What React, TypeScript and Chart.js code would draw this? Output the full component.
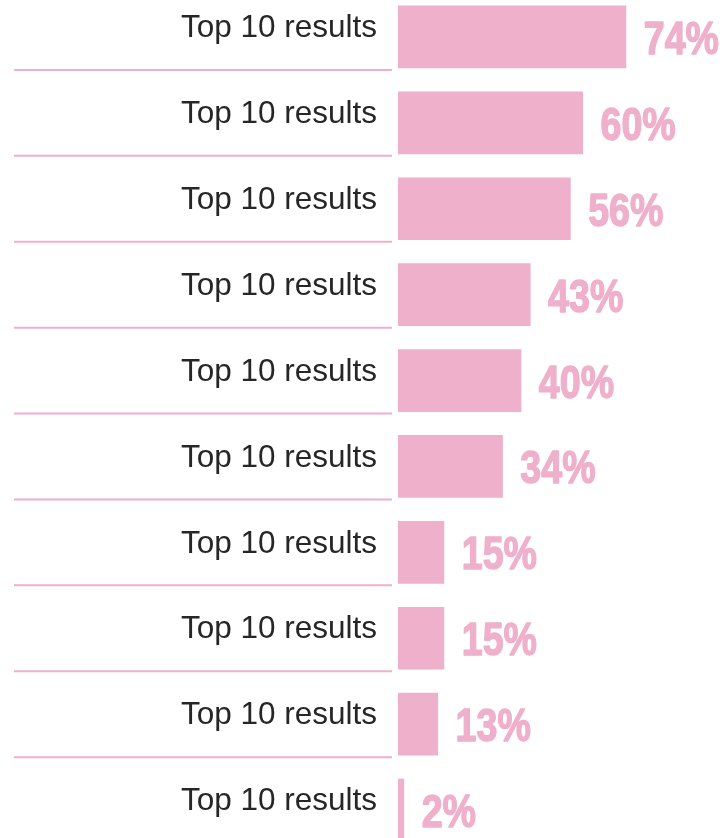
import React, { useEffect, useRef } from "react";
import { Chart, registerables } from "chart.js";

Chart.register(...registerables);

const categories = [
  "Top 10 results",
  "Top 10 results",
  "Top 10 results",
  "Top 10 results",
  "Top 10 results",
  "Top 10 results",
  "Top 10 results",
  "Top 10 results",
  "Top 10 results",
  "Top 10 results",
];
const values = [74, 60, 56, 43, 40, 34, 15, 15, 13, 2];

const PINK = "#EFB0CB";

const decorPlugin = {
  id: "decor",
  afterDatasetsDraw(chart: any) {
    const ctx = chart.ctx;
    const meta = chart.getDatasetMeta(0);
    const xScale = chart.scales.x;
    const yScale = chart.scales.y;
    meta.data.forEach((bar: any, i: number) => {
      const yc = yScale.getPixelForValue(i);
      ctx.save();
      // separator line under label
      ctx.strokeStyle = PINK;
      ctx.lineWidth = 2;
      ctx.beginPath();
      ctx.moveTo(14, yc + 33);
      ctx.lineTo(392, yc + 33);
      ctx.stroke();
      // value label (condensed, heavy)
      const xe = xScale.getPixelForValue(values[i]);
      ctx.fillStyle = PINK;
      ctx.strokeStyle = PINK;
      ctx.lineWidth = 1.5;
      ctx.lineJoin = "round";
      ctx.font = "bold 47px 'Liberation Sans', Arial, sans-serif";
      ctx.textAlign = "left";
      ctx.textBaseline = "alphabetic";
      ctx.translate(xe + 17.5, yc + 17);
      ctx.scale(0.8, 1);
      ctx.fillText(values[i] + "%", 0, 0);
      ctx.strokeText(values[i] + "%", 0, 0);
      ctx.restore();
    });
  },
};

export default function App() {
  const ref = useRef<HTMLCanvasElement>(null);
  useEffect(() => {
    if (!ref.current) return;
    const chart = new Chart(ref.current, {
      type: "bar",
      data: {
        labels: categories,
        datasets: [
          {
            data: values,
            backgroundColor: PINK,
            borderWidth: 0,
            barPercentage: 0.73,
            categoryPercentage: 1,
          },
        ],
      },
      options: {
        indexAxis: "y",
        animation: false,
        responsive: false,
        devicePixelRatio: 1,
        layout: { padding: 0 },
        plugins: {
          legend: { display: false },
          tooltip: { enabled: false },
        },
        scales: {
          x: {
            display: false,
            min: 0,
            max: 107,
          },
          y: {
            border: { display: false },
            grid: { display: false, drawTicks: false },
            ticks: {
              padding: 21,
              labelOffset: -8.5,
              color: "#262626",
              font: { family: "'Liberation Sans', Arial, sans-serif", size: 31.5 },
            },
            afterFit(scale: any) {
              scale.width = 398;
              scale.paddingTop = 0;
              scale.paddingBottom = 0;
            },
          },
        },
      },
      plugins: [decorPlugin],
    });
    return () => chart.destroy();
  }, []);
  return (
    <div style={{ position: "absolute", left: 0, top: -6, width: 728, height: 859 }}>
      <canvas ref={ref} width={728} height={859} />
    </div>
  );
}
